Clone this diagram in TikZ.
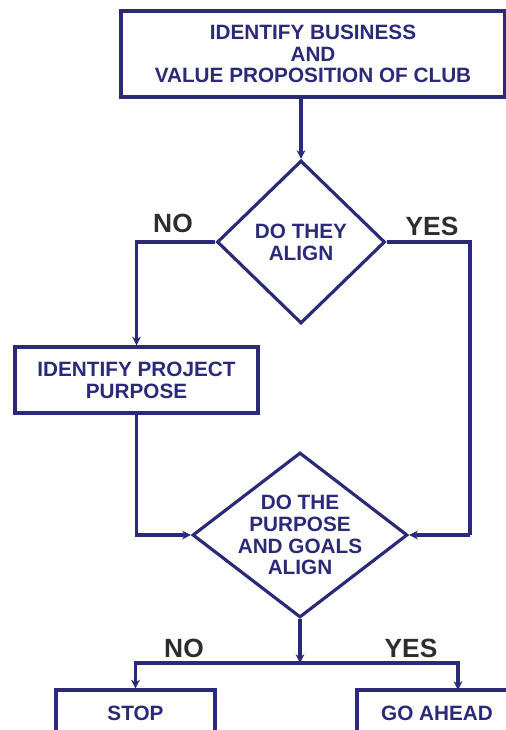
\documentclass[tikz,border=0pt]{standalone}
\usepackage{fontspec}
\setmainfont{Liberation Sans}
\usetikzlibrary{shapes.geometric,arrows.meta}
\definecolor{navy}{RGB}{42,42,120}
\definecolor{labelgray}{RGB}{45,45,45}
\begin{document}
\begin{tikzpicture}[x=0.02cm,y=-0.02cm]
  \useasboundingbox (0,0) rectangle (506,730);
  \fill[white] (0,0) rectangle (506,730);
  \clip (0,0) rectangle (506,730);
  \begin{scope}[every node/.style={rectangle,draw=navy,line width=1.8pt,text=navy,align=center,
      font=\bfseries\fontsize{11.8}{12.4}\selectfont}]
    \node[minimum width=7.68cm,minimum height=1.72cm] (business) at (313,54) {IDENTIFY BUSINESS\\AND\\VALUE PROPOSITION OF CLUB};
    \node[minimum width=4.86cm,minimum height=1.32cm] (purpose) at (136.5,380) {IDENTIFY PROJECT\\PURPOSE};
    \node[minimum width=3.18cm,minimum height=0.92cm] (stop) at (135.5,713) {STOP};
    \node[minimum width=3.2cm,minimum height=0.92cm] (goahead) at (437,713) {GO AHEAD};
  \end{scope}
  \begin{scope}[every node/.style={diamond,aspect=1,draw=navy,line width=1.8pt,text=navy,align=center,
      font=\bfseries\fontsize{11.8}{12.4}\selectfont}]
    \node[minimum width=3.36cm,minimum height=3.26cm] (align1) at (301,242) {DO THEY\\ALIGN};
    \node[minimum width=4.3cm,minimum height=3.3cm,inner sep=-6pt] (align2) at (300,535) {DO THE\\PURPOSE\\AND GOALS\\ALIGN};
  \end{scope}
  \begin{scope}[every node/.style={text=labelgray,font=\bfseries\fontsize{15}{17}\selectfont}]
    \node (no1) at (173,223) {NO};
    \node (yes1) at (432,226) {YES};
    \node (no2) at (184,648) {NO};
    \node (yes2) at (411,648) {YES};
  \end{scope}
  \coordinate (yesturn) at (470,535);
  \coordinate (split) at (300,663);
  \coordinate (goin) at (458,690);
  \begin{scope}[every edge/.style={draw=navy,line width=1.8pt,-{Stealth[length=5pt,width=5pt]}}]
    \path (align1.north |- business.south) edge (align1.north);
    \path (align1.west) edge[to path={-| (\tikztotarget)}] (purpose.north);
    \path (align1.east) edge[-,to path={-| (\tikztotarget)}] (yesturn);
    \path (yesturn) edge (align2.east);
    \path (purpose.south) edge[to path={|- (\tikztotarget)}] (align2.west);
    \path (align2.south) edge (split);
    \path (split) edge[to path={-| (\tikztotarget)}] (stop.north);
    \path (split) edge[to path={-| (\tikztotarget)}] (goin);
  \end{scope}
\end{tikzpicture}
\end{document}
